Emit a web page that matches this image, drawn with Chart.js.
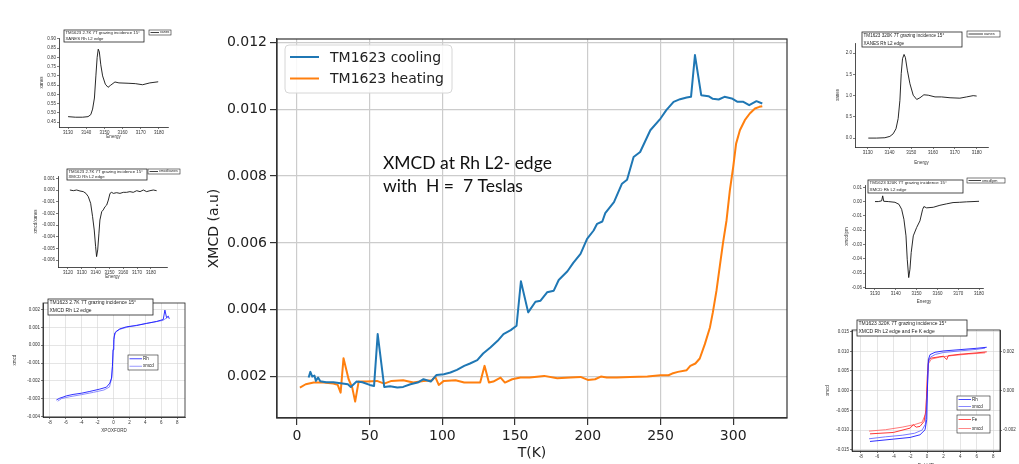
<!DOCTYPE html>
<html><head><meta charset="utf-8">
<script src="https://cdn.jsdelivr.net/npm/chart.js@4.4.1/dist/chart.umd.min.js"></script>
<style>
html,body{margin:0;padding:0;background:#fff;width:1019px;height:464px;overflow:hidden;position:relative}
canvas{position:absolute;display:block}
</style></head><body>
<canvas id="main" width="620" height="464" style="left:195px;top:0px"></canvas>
<script>
// ---------------- main chart data ----------------
const seriesNames = ['TM1623 cooling', 'TM1623 heating'];
const coolT = [8,9.2,10.5,12,13,14.5,16,20,25,30,35,37,41,45,50,53,55.5,60,64,69,73,78,83,87,92,96,101,105.5,110,115,119,124,128,133,138,142,147,151,154,159,164,167.5,172,176.6,180,186,190,195,199.5,204,206.4,210,212,218,223.5,227,231.5,236,243,250,254,259,263.5,268,271,273.7,278,283,286,290,294,299,303,307,311,316,320];
const coolV = [0.00197,0.00214,0.00200,0.00203,0.00187,0.00197,0.00186,0.00183,0.00183,0.00180,0.00177,0.00169,0.00185,0.00183,0.00175,0.00172,0.00327,0.00169,0.00171,0.00167,0.00169,0.00177,0.00182,0.00192,0.00185,0.00205,0.00207,0.00212,0.00220,0.00232,0.00239,0.00249,0.00269,0.00287,0.00307,0.00327,0.00339,0.00352,0.00485,0.00392,0.00424,0.00427,0.00452,0.00457,0.00489,0.00515,0.00540,0.00567,0.00612,0.00637,0.00657,0.00664,0.00689,0.00722,0.00777,0.00789,0.00857,0.00872,0.00937,0.00972,0.00997,0.01022,0.01030,0.01035,0.01037,0.01162,0.01042,0.01039,0.01031,0.01029,0.01037,0.01032,0.01022,0.01022,0.01012,0.01024,0.01017];
const heatT = [2,6,11.5,18,25,28,30,32,35.5,38,40,42.4,48,55,60,65,73,80,87,93,95,97.5,101,109,115,119,126,129,132,135,140,143,148,153.7,160,170,179,188,195,200,205,209,213,220,229,241,250,255.5,258,262,268,270.5,274,277,280.5,284,286,288.5,291,293,295.4,297.7,300,302,304.6,308,311.4,315,318,320];
const heatV = [0.00167,0.00177,0.00182,0.00182,0.00179,0.00175,0.00152,0.00255,0.00192,0.00167,0.00125,0.00185,0.00185,0.00187,0.00179,0.00187,0.00189,0.00182,0.00187,0.00189,0.00200,0.00175,0.00187,0.00189,0.00182,0.00182,0.00182,0.00232,0.00182,0.00185,0.00197,0.00182,0.00192,0.00197,0.00197,0.00202,0.00195,0.00197,0.00199,0.00190,0.00192,0.00200,0.00197,0.00197,0.00199,0.00200,0.00204,0.00204,0.00209,0.00214,0.00219,0.00232,0.00239,0.00254,0.00297,0.00347,0.00392,0.00457,0.00537,0.00600,0.00667,0.00757,0.00827,0.00897,0.00937,0.00967,0.00987,0.01002,0.01007,0.01009];
const mainXTicks = [0,50,100,150,200,250,300];
const mainXLabels = ['0','50','100','150','200','250','300'];
const mainYTicks = [0.002,0.004,0.006,0.008,0.010,0.012];
const mainYLabels = ['0.002','0.004','0.006','0.008','0.010','0.012'];
const mainXTitle = 'T(K)';
const mainYTitle = 'XMCD (a.u)';
const noteLines = ['XMCD at Rh L2- edge', 'with  H =  7 Teslas'];

// ---------------- inset data ----------------
// inset 1: XANES 2.7K
const in1Title = ['TM1623 2.7K 7T grazing incidence 15°', 'XANES Rh L2 edge'];
const in1E = [3130,3134,3138,3141,3142.5,3143.5,3144.5,3145.3,3146,3146.6,3147.2,3148,3149,3150.5,3152,3153.5,3155.8,3158,3163,3167,3171,3175,3179.6];
const in1V = [0.479,0.476,0.476,0.479,0.49,0.52,0.58,0.70,0.80,0.845,0.83,0.76,0.70,0.655,0.638,0.650,0.667,0.662,0.660,0.658,0.652,0.662,0.668];
const in1XTicks = [3130,3140,3150,3160,3170,3180];
const in1XLabels = ['3130','3140','3150','3160','3170','3180'];
const in1YTicks = [0.45,0.50,0.55,0.60,0.65,0.70,0.75,0.80,0.85,0.90];
const in1YLabels = ['0.45','0.50','0.55','0.60','0.65','0.70','0.75','0.80','0.85','0.90'];
// inset 2: XMCD 2.7K
const in2Title = ['TM1623 2.7K 7T grazing incidence 15°', 'XMCD Rh L2 edge'];
const in2E = [3121.4,3123.9,3126.3,3128.7,3131.1,3133.0,3134.7,3136.4,3137.8,3139.0,3140.0,3140.7,3141.5,3142.4,3143.1,3144.4,3145.5,3146.8,3148.0,3149.2,3150.4,3151.6,3152.8,3155.2,3157.6,3160.0,3162.4,3164.8,3167.2,3169.7,3172.1,3174.5,3176.9,3179.3,3181.7,3184.1];
const in2V = [0,-0.000057,0,-0.000086,-0.00014,-0.00029,-0.00057,-0.00114,-0.00229,-0.00343,-0.00486,-0.00571,-0.00514,-0.0037,-0.00257,-0.00186,-0.00171,-0.00143,-0.00129,-0.00086,-0.00029,-0.0002,-0.00029,-0.00023,-0.00029,-0.0002,-0.0002,-0.00014,-0.0002,-0.00006,-0.00014,0,-0.00014,-0.00006,0,-0.00006];
const in2XTicks = [3120,3130,3140,3150,3160,3170,3180];
const in2XLabels = ['3120','3130','3140','3150','3160','3170','3180'];
const in2YTicks = [-0.006,-0.005,-0.004,-0.003,-0.002,-0.001,0,0.001];
const in2YLabels = ['-0.006','-0.005','-0.004','-0.003','-0.002','-0.001','0.000','0.001'];
// inset 3: hysteresis 2.7K
const in3Title = ['TM1623 2.7K 7T grazing incidence 15°', 'XMCD Rh L2 edge'];
const in3Names = ['Rh', 'xmcd'];
const in3X1 = [-7.16,-6.74,-6.33,-5.91,-5.07,-4.02,-2.97,-1.72,-0.88,-0.46,-0.25,-0.13,-0.05,0.04,0.17,0.38,0.79,1.63,2.89,4.15,5.40,6.24,6.45,6.66,6.87,7.0];
const in3V1 = [-0.00308,-0.00298,-0.00292,-0.00285,-0.00277,-0.0027,-0.0026,-0.00247,-0.00236,-0.00213,-0.00185,-0.00119,-0.00025,0.00032,0.0007,0.00079,0.00092,0.00104,0.00111,0.00123,0.00134,0.00145,0.00198,0.00155,0.00164,0.00149];
const in3X2 = [-7.0,-6.5,-5.5,-4.0,-2.5,-1.2,-0.5,-0.2,-0.05,0.1,0.3,0.8,2.0,3.5,5.0,6.2,6.8];
const in3V2 = [-0.00315,-0.00300,-0.00290,-0.00278,-0.00265,-0.00252,-0.00235,-0.0018,-0.0004,0.0005,0.00075,0.0009,0.00105,0.00118,0.0013,0.0014,0.00158];
const in3XTicks = [-8,-6,-4,-2,0,2,4,6,8];
const in3XLabels = ['-8','-6','-4','-2','0','2','4','6','8'];
const in3YTicks = [-0.004,-0.003,-0.002,-0.001,0,0.001,0.002];
const in3YLabels = ['-0.004','-0.003','-0.002','-0.001','0.000','0.001','0.002'];
// inset 4: XANES 320K
const in4Title = ['TM1623 320K 7T grazing incidence 15°', 'XANES Rh L2 edge'];
const in4E = [3130.3,3134.1,3137.9,3140.2,3141.7,3143,3144,3144.8,3145.4,3146.0,3146.7,3147.3,3148.2,3149.4,3150.9,3152.5,3154,3155.8,3157.8,3160.9,3163.9,3167.8,3172.3,3175.4,3178.4,3180];
const in4V = [0,0,0.008,0.04,0.10,0.22,0.46,0.89,1.52,1.87,1.97,1.90,1.60,1.28,1.01,0.91,0.95,1.02,1.01,0.97,0.97,0.95,0.94,0.97,1.0,0.99];
const in4XTicks = [3130,3140,3150,3160,3170,3180];
const in4XLabels = ['3130','3140','3150','3160','3170','3180'];
const in4YTicks = [0,0.5,1,1.5,2];
const in4YLabels = ['0.0','0.5','1.0','1.5','2.0'];
// inset 5: XMCD 320K
const in5Title = ['TM1623 320K 7T grazing incidence 15°', 'XMCD Rh L2 edge'];
const in5E = [3130,3131.6,3133.2,3133.7,3134.2,3136.4,3139.6,3141.5,3142.8,3143.9,3144.9,3145.5,3146.2,3146.8,3147.4,3148.4,3150,3151.6,3152.9,3153.5,3154.8,3158,3161.2,3164.4,3167.5,3170.7,3173.9,3177.1,3180];
const in5V = [0,0,0.0005,0.004,0.0002,0,-0.0005,-0.0019,-0.0054,-0.0124,-0.024,-0.0404,-0.0532,-0.0474,-0.0357,-0.024,-0.0182,-0.0135,-0.0054,-0.0035,-0.0044,-0.004,-0.0026,-0.0016,-0.0007,-0.0005,-0.0002,0,0.0002];
const in5XTicks = [3130,3140,3150,3160,3170,3180];
const in5XLabels = ['3130','3140','3150','3160','3170','3180'];
const in5YTicks = [-0.06,-0.05,-0.04,-0.03,-0.02,-0.01,0,0.01];
const in5YLabels = ['-0.06','-0.05','-0.04','-0.03','-0.02','-0.01','0.00','0.01'];
// inset 6: hysteresis 320K, Rh and Fe
const in6Title = ['TM1623 320K 7T grazing incidence 15°', 'XMCD Rh L2 edge and Fe K edge'];
const in6Names = ['Rh', 'xmcd', 'Fe', 'xmcd'];
const in6RhX1 = [-6.88,-4.07,-2.05,-0.85,-0.24,-0.04,0.03,0.16,0.36,0.96,1.97,3.98,5.99,7.2];
const in6RhV1 = [-0.01288,-0.01229,-0.01186,-0.01119,-0.00992,-0.00737,-0.00059,0.00788,0.00915,0.00975,0.01008,0.01042,0.01076,0.01102];
const in6RhX2 = [-7,-5,-3,-1.5,-0.6,-0.2,0,0.15,0.4,1,2,4,6,7];
const in6RhV2 = [-0.0122,-0.0117,-0.0113,-0.0108,-0.0100,-0.0085,-0.002,0.0070,0.0085,0.0092,0.0097,0.0101,0.0105,0.0108];
const in6FeX1 = [-6.88,-4.07,-2.05,-1.65,-1.3,-0.85,-0.36,-0.12,0.03,0.19,0.55,1.97,2.37,2.57,3.98,5.99,7.2];
const in6FeV1 = [-0.00219,-0.00212,-0.0019,-0.00173,-0.00185,-0.00181,-0.00156,-0.00097,0.00073,0.00158,0.00166,0.00175,0.00158,0.00178,0.00185,0.00192,0.00197];
const in6FeX2 = [-7,-5,-3,-1.5,-0.6,-0.2,0,0.15,0.5,1.5,3,5,7];
const in6FeV2 = [-0.00205,-0.00198,-0.00185,-0.00172,-0.00160,-0.0012,0.0000,0.00135,0.00160,0.00170,0.00178,0.00186,0.00192];
const in6XTicks = [-8,-6,-4,-2,0,2,4,6,8];
const in6XLabels = ['-8','-6','-4','-2','0','2','4','6','8'];
const in6YTicks = [-0.015,-0.010,-0.005,0,0.005,0.010,0.015];
const in6YLabels = ['-0.015','-0.010','-0.005','0.000','0.005','0.010','0.015'];
const in6Y2Ticks = [-0.002,0,0.002];
const in6Y2Labels = ['-0.002','0.000','0.002'];

// ---------------- helpers ----------------
const pts = (xs, ys) => xs.map((x, i) => ({x: x, y: ys[i]}));
const FONT_MAIN = 'DejaVu Sans';
const FONT_IN = 'Liberation Sans';

// ---------------- main chart ----------------
const mainDeco = {
  id: 'mainDeco',
  afterDatasetsDraw(chart) {
    const {ctx, chartArea: a} = chart;
    ctx.save();
    ctx.strokeStyle = '#333';
    ctx.lineWidth = 1.2;
    ctx.strokeRect(a.left, a.top, a.right - a.left, a.bottom - a.top);
    // legend (matplotlib style)
    const lx = a.left + 8, ly = a.top + 6, lw = 167, lh = 48, r = 4;
    ctx.beginPath();
    ctx.moveTo(lx + r, ly);
    ctx.arcTo(lx + lw, ly, lx + lw, ly + lh, r);
    ctx.arcTo(lx + lw, ly + lh, lx, ly + lh, r);
    ctx.arcTo(lx, ly + lh, lx, ly, r);
    ctx.arcTo(lx, ly, lx + lw, ly, r);
    ctx.closePath();
    ctx.fillStyle = 'rgba(255,255,255,0.85)';
    ctx.fill();
    ctx.strokeStyle = '#d6d6d6';
    ctx.lineWidth = 1;
    ctx.stroke();
    ctx.font = '14px "' + FONT_MAIN + '"';
    ctx.textBaseline = 'middle';
    ctx.textAlign = 'left';
    chart.data.datasets.forEach((ds, i) => {
      const y = ly + 12 + i * 21.5;
      ctx.strokeStyle = ds.borderColor;
      ctx.lineWidth = 2;
      ctx.beginPath();
      ctx.moveTo(lx + 5, y);
      ctx.lineTo(lx + 34, y);
      ctx.stroke();
      ctx.fillStyle = '#222';
      ctx.fillText(ds.label, lx + 45, y + 1);
    });
    // annotation text
    ctx.fillStyle = '#111';
    ctx.font = '17.5px Lato';
    noteLines.forEach((t, i) => ctx.fillText(t, a.left + 106, a.top + 124 + i * 23));
    ctx.restore();
  }
};

new Chart(document.getElementById('main'), {
  type: 'line',
  data: {datasets: [
    {label: seriesNames[0], data: pts(coolT, coolV), borderColor: '#1f77b4', borderWidth: 2, pointRadius: 0, tension: 0, fill: false, borderJoinStyle: 'round'},
    {label: seriesNames[1], data: pts(heatT, heatV), borderColor: '#ff7f0e', borderWidth: 2, pointRadius: 0, tension: 0, fill: false, borderJoinStyle: 'round'}
  ]},
  options: {
    responsive: false, animation: false, devicePixelRatio: 1,
    layout: {padding: {left: 5, right: 28, top: 39, bottom: 0}},
    plugins: {legend: {display: false}, tooltip: {enabled: false}},
    scales: {
      x: {
        type: 'linear', min: -13.75, max: 337,
        afterBuildTicks: s => { s.ticks = mainXTicks.map(v => ({value: v})); },
        afterFit: s => { s.height = 46; },
        ticks: {callback: (v, i) => mainXLabels[i], font: {family: FONT_MAIN, size: 14}, color: '#222', padding: 3, maxRotation: 0, autoSkip: false},
        grid: {color: '#cccccc', lineWidth: 1.2, tickLength: 7, tickColor: '#333', tickWidth: 1.2},
        border: {display: true, color: '#333', width: 1.2},
        title: {display: true, text: mainXTitle, font: {family: FONT_MAIN, size: 14}, color: '#222', padding: {top: 0, bottom: 2.6}}
      },
      y: {
        type: 'linear', min: 0.00076, max: 0.0121,
        afterBuildTicks: s => { s.ticks = mainYTicks.map(v => ({value: v})); },
        afterFit: s => { s.width = 77; },
        ticks: {callback: (v, i) => mainYLabels[i], font: {family: FONT_MAIN, size: 14}, color: '#222', padding: 3, autoSkip: false},
        grid: {color: '#cccccc', lineWidth: 1.2, tickLength: 7, tickColor: '#333', tickWidth: 1.2},
        border: {display: true, color: '#333', width: 1.2},
        title: {display: true, text: mainYTitle, font: {family: FONT_MAIN, size: 14}, color: '#222', padding: {top: 5.6, bottom: 0}}
      }
    }
  },
  plugins: [mainDeco]
});

// ---------------- inset charts ----------------
const insetDeco = {
  id: 'insetDeco',
  afterDatasetsDraw(chart, args, opts) {
    const {ctx, chartArea: a} = chart;
    const ox = opts.ox, oy = opts.oy;
    ctx.save();
    if (opts.frame) {
      ctx.strokeStyle = '#222';
      ctx.lineWidth = 0.8;
      ctx.strokeRect(a.left, a.top, a.right - a.left, a.bottom - a.top);
    }
    const tb = opts.titleBox;
    if (tb) {
      ctx.fillStyle = '#fff';
      ctx.fillRect(tb.x - ox, tb.y - oy, tb.w, tb.h);
      ctx.strokeStyle = '#222';
      ctx.lineWidth = 0.8;
      ctx.strokeRect(tb.x - ox, tb.y - oy, tb.w, tb.h);
      ctx.fillStyle = '#222';
      ctx.font = tb.fs + 'px "' + FONT_IN + '"';
      ctx.textBaseline = 'middle';
      ctx.textAlign = 'left';
      tb.lines.forEach((t, i) => ctx.fillText(t, tb.x - ox + 1.5, tb.y - oy + tb.h * (i + 0.5) / tb.lines.length));
    }
    (opts.legends || []).forEach(lg => {
      ctx.fillStyle = '#fff';
      ctx.fillRect(lg.x - ox, lg.y - oy, lg.w, lg.h);
      ctx.strokeStyle = '#222';
      ctx.lineWidth = 0.6;
      ctx.strokeRect(lg.x - ox, lg.y - oy, lg.w, lg.h);
      ctx.font = lg.fs + 'px "' + FONT_IN + '"';
      ctx.textBaseline = 'middle';
      lg.items.forEach((di, k) => {
        const ds = chart.data.datasets[di];
        const y = lg.y - oy + lg.h * (k + 0.5) / lg.items.length;
        ctx.strokeStyle = ds.borderColor;
        ctx.lineWidth = 0.8;
        ctx.beginPath();
        ctx.moveTo(lg.x - ox + 1.5, y);
        ctx.lineTo(lg.x - ox + lg.lineW, y);
        ctx.stroke();
        ctx.fillStyle = '#222';
        ctx.fillText(ds.label, lg.x - ox + lg.lineW + 1, y);
      });
    });
    ctx.restore();
  }
};

function insetChart(spec) {
  const {box, area} = spec;
  const cv = document.createElement('canvas');
  cv.width = box.w; cv.height = box.h;
  cv.style.left = box.x + 'px'; cv.style.top = box.y + 'px';
  document.body.appendChild(cv);
  const fs = 4.5, lh = fs * 1.2;
  const tickFont = {family: FONT_IN, size: fs};
  const gridOn = !!spec.grid;
  const gridOpts = {display: true, drawOnChartArea: gridOn, color: '#d4d4d4', lineWidth: 0.6, tickLength: 2, tickColor: '#222', tickWidth: 0.6};
  const scales = {
    x: {
      type: 'linear', min: spec.x.min, max: spec.x.max,
      afterBuildTicks: s => { s.ticks = spec.x.ticks.map(v => ({value: v})); },
      afterFit: s => { s.height = box.y + box.h - area.b; },
      ticks: {callback: (v, i) => spec.x.labels[i], font: tickFont, color: '#333', padding: 1, maxRotation: 0, autoSkip: false},
      grid: gridOpts,
      border: {display: true, color: '#222', width: 0.8},
      title: {display: true, text: spec.x.title, font: {family: FONT_IN, size: fs}, color: '#333', padding: {top: 0, bottom: (box.y + box.h - spec.x.titleY) - lh / 2}}
    },
    y: {
      type: 'linear', position: 'left', min: spec.y.min, max: spec.y.max,
      afterBuildTicks: s => { s.ticks = spec.y.ticks.map(v => ({value: v})); },
      afterFit: s => { s.width = area.l - box.x; },
      ticks: {callback: (v, i) => spec.y.labels[i], font: tickFont, color: '#333', padding: 1, autoSkip: false},
      grid: gridOpts,
      border: {display: true, color: '#222', width: 0.8},
      title: {display: true, text: spec.y.title, font: {family: FONT_IN, size: fs}, color: '#333', padding: {top: (spec.y.titleX - box.x) - lh / 2, bottom: 0}}
    }
  };
  if (spec.y2) {
    scales.y2 = {
      type: 'linear', position: 'right', min: spec.y2.min, max: spec.y2.max,
      afterBuildTicks: s => { s.ticks = spec.y2.ticks.map(v => ({value: v})); },
      afterFit: s => { s.width = box.x + box.w - area.r; },
      ticks: {callback: (v, i) => spec.y2.labels[i], font: tickFont, color: '#333', padding: 1, autoSkip: false},
      grid: {display: true, drawOnChartArea: false, tickLength: 2, tickColor: '#222', tickWidth: 0.6},
      border: {display: true, color: '#222', width: 0.8}
    };
  }
  new Chart(cv, {
    type: 'line',
    data: {datasets: spec.series.map(s => ({
      label: s.label, data: pts(s.xs, s.ys), borderColor: s.color, borderWidth: s.width || 0.9,
      pointRadius: 0, tension: 0, fill: false, yAxisID: s.axis || 'y'
    }))},
    options: {
      responsive: false, animation: false, devicePixelRatio: 1,
      layout: {padding: {left: 0, top: area.t - box.y, right: spec.y2 ? 0 : (box.x + box.w - area.r), bottom: 0}},
      plugins: {
        legend: {display: false}, tooltip: {enabled: false},
        insetDeco: {ox: box.x, oy: box.y, frame: !!spec.frame, titleBox: spec.titleBox, legends: spec.legends}
      },
      scales: scales
    },
    plugins: [insetDeco]
  });
}

insetChart({
  box: {x: 28, y: 22, w: 155, h: 125}, area: {l: 59, t: 38, r: 168, b: 127},
  x: {min: 3125, max: 3185, ticks: in1XTicks, labels: in1XLabels, title: 'Energy', titleY: 137},
  y: {min: 0.4229, max: 0.9054, ticks: in1YTicks, labels: in1YLabels, title: 'xanes', titleX: 42},
  series: [{label: 'xanes', xs: in1E, ys: in1V, color: '#111'}],
  titleBox: {x: 64, y: 30, w: 80, h: 12, fs: 4.3, lines: in1Title},
  legends: [{x: 149, y: 30, w: 22, h: 5, fs: 3.5, lineW: 10, items: [0]}]
});
insetChart({
  box: {x: 28, y: 160, w: 157, h: 125}, area: {l: 58, t: 176, r: 167, b: 267},
  x: {min: 3112.8, max: 3191.6, ticks: in2XTicks, labels: in2XLabels, title: 'Energy', titleY: 277},
  y: {min: -0.0066, max: 0.0012, ticks: in2YTicks, labels: in2YLabels, title: 'xmcd/xanes', titleX: 36},
  series: [{label: 'xmcd/xanes', xs: in2E, ys: in2V, color: '#111'}],
  titleBox: {x: 67, y: 169, w: 80, h: 11, fs: 4.3, lines: in2Title},
  legends: [{x: 148, y: 169, w: 32, h: 5, fs: 3.5, lineW: 10, items: [0]}]
});
insetChart({
  box: {x: 0, y: 292, w: 195, h: 148}, area: {l: 43, t: 303, r: 185, b: 417},
  x: {min: -8.84, max: 8.97, ticks: in3XTicks, labels: in3XLabels, title: 'XPOXFORD', titleY: 431},
  y: {min: -0.00404, max: 0.00238, ticks: in3YTicks, labels: in3YLabels, title: 'xmcd', titleX: 15},
  grid: true, frame: true,
  series: [
    {label: in3Names[0], xs: in3X1, ys: in3V1, color: '#1a1aff'},
    {label: in3Names[1], xs: in3X2, ys: in3V2, color: '#7f7fff'}
  ],
  titleBox: {x: 48, y: 299, w: 105, h: 16, fs: 5, lines: in3Title},
  legends: [{x: 128, y: 355, w: 30, h: 15, fs: 4.5, lineW: 14, items: [0, 1]}]
});
insetChart({
  box: {x: 825, y: 25, w: 185, h: 145}, area: {l: 855, t: 43, r: 988, b: 147},
  x: {min: 3124.2, max: 3185.2, ticks: in4XTicks, labels: in4XLabels, title: 'Energy', titleY: 163},
  y: {min: -0.21, max: 2.24, ticks: in4YTicks, labels: in4YLabels, title: 'xanes', titleX: 838},
  series: [{label: 'xanes', xs: in4E, ys: in4V, color: '#111'}],
  titleBox: {x: 862, y: 32, w: 100, h: 15, fs: 4.6, lines: in4Title},
  legends: [{x: 967, y: 31, w: 33, h: 6, fs: 4, lineW: 16, items: [0]}]
});
insetChart({
  box: {x: 825, y: 172, w: 190, h: 138}, area: {l: 865, t: 185, r: 983, b: 288},
  x: {min: 3125.2, max: 3181.9, ticks: in5XTicks, labels: in5XLabels, title: 'Energy', titleY: 302},
  y: {min: -0.0605, max: 0.0116, ticks: in5YTicks, labels: in5YLabels, title: 'xmcd/pm', titleX: 847},
  series: [{label: 'xmcd/pm', xs: in5E, ys: in5V, color: '#111'}],
  titleBox: {x: 868, y: 180, w: 95, h: 13, fs: 4.4, lines: in5Title},
  legends: [{x: 967, y: 178, w: 38, h: 5, fs: 3.8, lineW: 14, items: [0]}]
});
insetChart({
  box: {x: 815, y: 314, w: 204, h: 156}, area: {l: 852, t: 330, r: 1000, b: 451},
  x: {min: -9.05, max: 8.8, ticks: in6XTicks, labels: in6XLabels, title: 'Field (T)', titleY: 466},
  y: {min: -0.0153, max: 0.0154, ticks: in6YTicks, labels: in6YLabels, title: 'xmcd', titleX: 828},
  y2: {min: -0.00306, max: 0.00308, ticks: in6Y2Ticks, labels: in6Y2Labels},
  grid: true, frame: true,
  series: [
    {label: in6Names[0], xs: in6RhX1, ys: in6RhV1, color: '#1a1aff'},
    {label: in6Names[1], xs: in6RhX2, ys: in6RhV2, color: '#6a6aff'},
    {label: in6Names[2], xs: in6FeX1, ys: in6FeV1, color: '#ff2020', axis: 'y2'},
    {label: in6Names[3], xs: in6FeX2, ys: in6FeV2, color: '#ff6a6a', axis: 'y2'}
  ],
  titleBox: {x: 857, y: 320, w: 110, h: 16, fs: 5, lines: in6Title},
  legends: [
    {x: 957, y: 396, w: 33, h: 14, fs: 4.5, lineW: 14, items: [0, 1]},
    {x: 957, y: 415, w: 33, h: 18, fs: 4.5, lineW: 14, items: [2, 3]}
  ]
});
</script>
</body></html>
